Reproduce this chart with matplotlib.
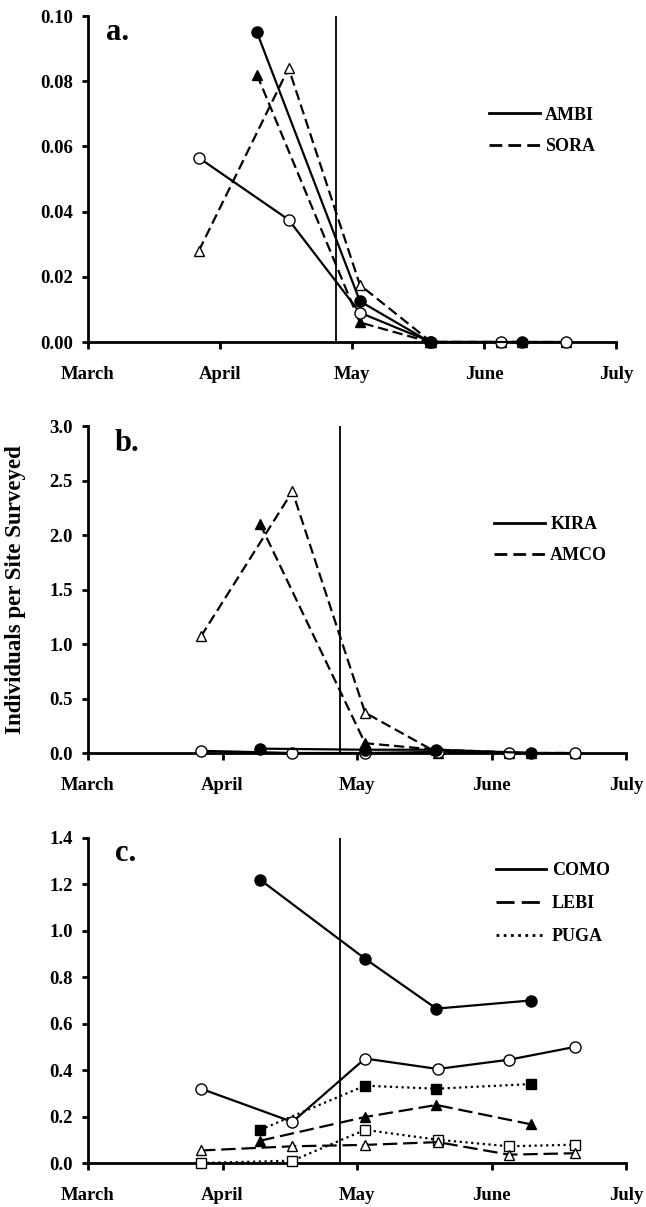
import numpy as np
import matplotlib
matplotlib.use("Agg")
import matplotlib.pyplot as plt
from matplotlib.lines import Line2D

plt.rcParams['font.family'] = 'serif'
plt.rcParams['font.serif'] = ['Liberation Serif', 'DejaVu Serif']
plt.rcParams['font.weight'] = 'bold'

# --- data (x in months after 1 March) ---
months = ['March', 'April', 'May', 'June', 'July']
date_filled = [1.28, 2.06, 2.59, 3.29]
date_open = [0.84, 1.52, 2.06, 2.60, 3.13, 3.62]
cutoff = 1.875

ambi_filled = [0.095, 0.0125, 0.0, 0.0]
ambi_open = [0.0565, 0.0375, 0.009, 0.0, 0.0, 0.0]
sora_filled = [0.082, 0.006, 0.0, 0.0]
sora_open = [0.028, 0.084, 0.0175, 0.0, 0.0, 0.0]

kira_filled = [0.04, 0.03, 0.03, 0.0]
kira_open = [0.02, 0.0, 0.0, 0.01, 0.0, 0.0]
amco_filled = [2.1, 0.09, 0.03, 0.0]
amco_open = [1.07, 2.4, 0.37, 0.0, 0.0, 0.0]

como_filled = [1.22, 0.88, 0.665, 0.70]
como_open = [0.32, 0.177, 0.45, 0.405, 0.445, 0.50]
lebi_filled = [0.096, 0.198, 0.25, 0.167]
lebi_open = [0.054, 0.072, 0.078, 0.09, 0.036, 0.042]
puga_filled = [0.143, 0.333, 0.32, 0.34]
puga_open = [0.0, 0.01, 0.143, 0.10, 0.072, 0.079]

SOLID = '-'
DASH = (0, (4.6, 2.2))
LONGDASH = (0, (6.5, 2.6))
DOT = (0, (1, 1.6))

W, H = 646, 1207
fig = plt.figure(figsize=(W / 100, H / 100), dpi=100)


def px_axes(left, right, top, bottom):
    return fig.add_axes([left / W, 1 - bottom / H, (right - left) / W, (bottom - top) / H])


def style(ax, ymax, ystep, fmt, letter, lety):
    ax.set_xlim(0, 4)
    ax.set_ylim(0, ymax)
    ax.set_xticks(range(5))
    ax.set_xticklabels(months)
    ax.set_yticks(np.arange(0, ymax + ystep / 2, ystep))
    ax.set_yticklabels([fmt.format(v) for v in np.arange(0, ymax + ystep / 2, ystep)])
    for s in ['top', 'right']:
        ax.spines[s].set_visible(False)
    for s in ['left', 'bottom']:
        ax.spines[s].set_linewidth(2)
    ax.tick_params(axis='x', direction='out', length=5, width=2, pad=12.5, labelsize=13.5)
    ax.tick_params(axis='y', direction='out', length=4, width=2, pad=7, labelsize=13.5)
    ax.axvline(cutoff, color='black', lw=1.3, zorder=1)
    ax.text(0.035 if letter == 'a.' else 0.05, lety, letter, transform=ax.transAxes,
            fontsize=22, fontweight='bold')


def series(ax, x, y, ls, marker, filled, ms, lw=1.6):
    ax.plot(x, y, color='black', ls=ls, lw=lw, marker=marker, ms=ms,
            mfc='black' if filled else 'white', mec='black', mew=1.0,
            clip_on=False, zorder=3)


def legend(ax, labels, styles, x, y, spacing):
    handles = [Line2D([], [], color='black', lw=2, ls=s) for s in styles]
    ax.legend(handles, labels, loc='upper left', bbox_to_anchor=(x, y), frameon=False,
              fontsize=13, handlelength=2.8, handletextpad=0.3, labelspacing=spacing,
              borderpad=0, borderaxespad=0)


# --- panel a ---
ax1 = px_axes(88, 616, 16, 342)
style(ax1, 0.10, 0.02, '{:.2f}', 'a.', 0.925)
series(ax1, date_open, sora_open, DASH, '^', False, 7)
series(ax1, date_filled, sora_filled, DASH, '^', True, 7)
series(ax1, date_open, ambi_open, SOLID, 'o', False, 8)
series(ax1, date_filled, ambi_filled, SOLID, 'o', True, 8)
legend(ax1, ['AMBI', 'SORA'], [SOLID, DASH], 0.76, 0.722, 0.82)

# --- panel b ---
ax2 = px_axes(88, 626, 426, 753)
style(ax2, 3.0, 0.5, '{:.1f}', 'b.', 0.925)
series(ax2, date_open, amco_open, DASH, '^', False, 7)
series(ax2, date_filled, amco_filled, DASH, '^', True, 7)
series(ax2, date_open, kira_open, SOLID, 'o', False, 8)
series(ax2, date_filled, kira_filled, SOLID, 'o', True, 8)
legend(ax2, ['KIRA', 'AMCO'], [SOLID, DASH], 0.755, 0.725, 0.78)
fig.text(16 / W, 1 - 590 / H, 'Individuals per Site Surveyed', rotation=90,
         ha='center', va='center', fontsize=16.5, fontweight='bold')

# --- panel c ---
ax3 = px_axes(88, 626, 838, 1163)
style(ax3, 1.4, 0.2, '{:.1f}', 'c.', 0.93)
series(ax3, date_open, puga_open, DOT, 's', False, 7)
series(ax3, date_filled, puga_filled, DOT, 's', True, 7)
series(ax3, date_open, lebi_open, LONGDASH, '^', False, 7)
series(ax3, date_filled, lebi_filled, LONGDASH, '^', True, 7)
series(ax3, date_open, como_open, SOLID, 'o', False, 8)
series(ax3, date_filled, como_filled, SOLID, 'o', True, 8)
legend(ax3, ['COMO', 'LEBI', 'PUGA'], [SOLID, LONGDASH, DOT], 0.758, 0.925, 0.88)

fig.savefig('out.png', dpi=100)
